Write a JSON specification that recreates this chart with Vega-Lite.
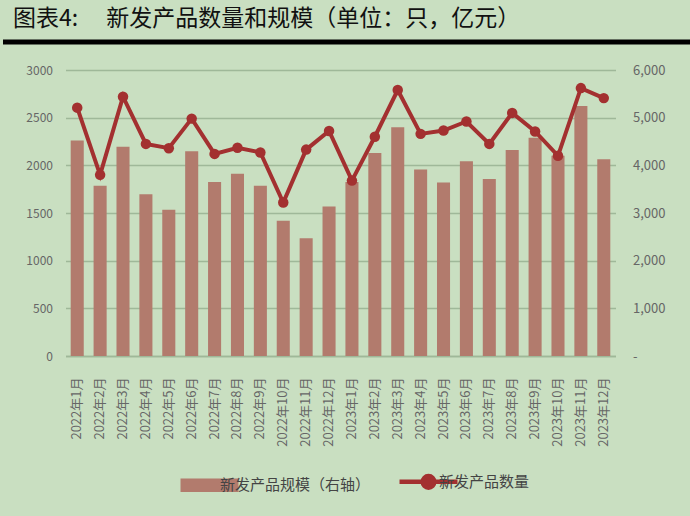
{
  "$schema": "https://vega.github.io/schema/vega-lite/v6.json",
  "background": "#c9dfc1",
  "padding": {"left": 0, "right": 0, "top": 8, "bottom": 20},
  "title": {
    "text": "图表4:　 新发产品数量和规模（单位：只，亿元）",
    "anchor": "start",
    "frame": "group",
    "font": "Noto Sans CJK SC",
    "fontSize": 23,
    "fontWeight": "normal",
    "color": "#111111",
    "dx": 10,
    "offset": 6
  },
  "spacing": 17,
  "resolve": {"scale": {"color": "independent"}, "legend": {"color": "independent"}},
  "config": {"view": {"stroke": null}},
  "vconcat": [
    {
      "width": 690,
      "height": 10,
      "data": {"values": [{}]},
      "mark": {"type": "rule", "color": "#000000", "strokeWidth": 5},
      "encoding": {"y": {"datum": 0.5, "type": "quantitative", "scale": {"domain": [0, 1]}, "axis": null}}
    },
    {
      "width": 690,
      "height": 286,
      "data": {
        "values": [
          {"month": "2022年1月", "count": 2605, "scale": 4520},
          {"month": "2022年2月", "count": 1900, "scale": 3570},
          {"month": "2022年3月", "count": 2720, "scale": 4390},
          {"month": "2022年4月", "count": 2225, "scale": 3395},
          {"month": "2022年5月", "count": 2180, "scale": 3070},
          {"month": "2022年6月", "count": 2490, "scale": 4295},
          {"month": "2022年7月", "count": 2120, "scale": 3650},
          {"month": "2022年8月", "count": 2185, "scale": 3825},
          {"month": "2022年9月", "count": 2135, "scale": 3570},
          {"month": "2022年10月", "count": 1610, "scale": 2840},
          {"month": "2022年11月", "count": 2165, "scale": 2470},
          {"month": "2022年12月", "count": 2360, "scale": 3135},
          {"month": "2023年1月", "count": 1840, "scale": 3650},
          {"month": "2023年2月", "count": 2300, "scale": 4260},
          {"month": "2023年3月", "count": 2790, "scale": 4800},
          {"month": "2023年4月", "count": 2330, "scale": 3910},
          {"month": "2023年5月", "count": 2365, "scale": 3640},
          {"month": "2023年6月", "count": 2460, "scale": 4085},
          {"month": "2023年7月", "count": 2225, "scale": 3715},
          {"month": "2023年8月", "count": 2550, "scale": 4320},
          {"month": "2023年9月", "count": 2355, "scale": 4580},
          {"month": "2023年10月", "count": 2100, "scale": 4200},
          {"month": "2023年11月", "count": 2810, "scale": 5245},
          {"month": "2023年12月", "count": 2705, "scale": 4130}
        ]
      },
      "encoding": {
        "x": {
          "field": "month",
          "type": "ordinal",
          "sort": null,
          "title": null,
          "scale": {"range": [62.5, 612.5], "paddingInner": 0.43, "paddingOuter": 0.227},
          "axis": {
            "labelAngle": -90,
            "labelFont": "Noto Sans CJK SC",
            "labelFontSize": 13,
            "labelColor": "#666666",
            "labelPadding": 21,
            "ticks": false,
            "domainColor": "#9fb899",
            "domainWidth": 1.5
          }
        }
      },
      "layer": [
        {
          "mark": {"type": "bar"},
          "encoding": {
            "y": {
              "field": "scale",
              "type": "quantitative",
              "title": null,
              "scale": {"domain": [0, 6000]},
              "axis": {
                "orient": "right",
                "offset": -77.5,
                "values": [0, 1000, 2000, 3000, 4000, 5000, 6000],
                "labelExpr": "datum.value == 0 ? '-' : format(datum.value, ',')",
                "labelFont": "Noto Sans CJK SC",
                "labelFontSize": 13,
                "labelColor": "#666666",
                "labelPadding": 17,
                "ticks": false,
                "domain": false,
                "grid": false
              }
            },
            "color": {
              "datum": "新发产品规模（右轴）",
              "scale": {"domain": ["新发产品规模（右轴）", "新发产品数量"], "range": ["#b27b6d", "#a33030"]},
              "legend": {
                "orient": "none",
                "legendX": 199,
                "legendY": 404,
                "direction": "horizontal",
                "title": null,
                "padding": 0,
                "labelFont": "Noto Sans CJK SC",
                "labelFontSize": 15,
                "labelColor": "#444444",
                "labelOffset": 3,
                "columnPadding": 19,
                "symbolSize": 3360,
                "encode": {
                  "symbols": {
                    "update": {
                      "shape": {"signal": "datum.value === '新发产品数量' ? 'M-1,0H1M-0.2,0A0.2,0.2,0,1,1,0.2,0A0.2,0.2,0,1,1,-0.2,0' : 'M-1,-0.23H1V0.23H-1Z'"},
                      "fill": {"signal": "datum.value === '新发产品数量' ? '#a33030' : '#b27b6d'"},
                      "stroke": {"signal": "datum.value === '新发产品数量' ? '#a33030' : '#b27b6d'"},
                      "strokeWidth": {"signal": "datum.value === '新发产品数量' ? 4.5 : 0"},
                      "opacity": {"value": 1}
                    }
                  }
                }
              }
            }
          }
        },
        {
          "mark": {"type": "line", "strokeWidth": 4, "point": {"size": 110, "filled": true, "opacity": 1}},
          "encoding": {
            "y": {
              "field": "count",
              "type": "quantitative",
              "title": null,
              "scale": {"domain": [0, 3000]},
              "axis": {
                "orient": "left",
                "offset": -62.5,
                "values": [0, 500, 1000, 1500, 2000, 2500, 3000],
                "format": "d",
                "labelFont": "Noto Sans CJK SC",
                "labelFontSize": 12,
                "labelColor": "#666666",
                "labelPadding": 13,
                "ticks": false,
                "domain": false,
                "grid": true,
                "gridColor": "#9fb899",
                "gridWidth": 1.5
              }
            },
            "color": {"datum": "新发产品数量"}
          }
        }
      ],
      "resolve": {"scale": {"y": "independent"}}
    }
  ]
}
